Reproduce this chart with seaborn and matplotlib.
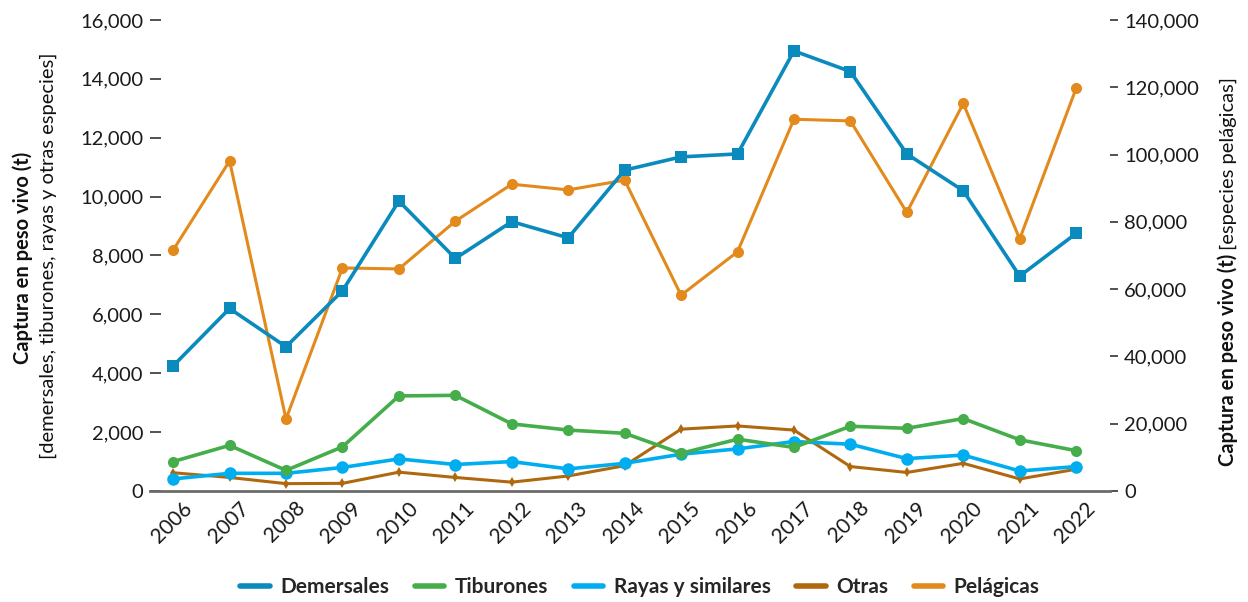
import pandas as pd
import matplotlib.pyplot as plt
import matplotlib.transforms as mtransforms
from matplotlib.lines import Line2D
from matplotlib.ticker import FuncFormatter, MultipleLocator
import seaborn as sns

# datos (t)
years = [str(y) for y in range(2006, 2023)]
demersales = [4250, 6200, 4900, 6800, 9850, 7900, 9150, 8600, 10900, 11350,
              11450, 14950, 14250, 11450, 10200, 7300, 8750]
tiburones = [1000, 1550, 700, 1500, 3230, 3250, 2280, 2070, 1960, 1280,
             1760, 1480, 2200, 2130, 2460, 1740, 1370]
rayas = [410, 600, 600, 800, 1090, 900, 1000, 750, 940, 1250,
         1430, 1680, 1590, 1100, 1220, 680, 830]
otras = [620, 460, 250, 260, 640, 460, 300, 510, 860, 2100,
         2210, 2070, 830, 630, 940, 410, 740]
pelagicas = [71600, 98100, 21400, 66300, 66000, 80200, 91200, 89500, 92400, 58200,
             71100, 110500, 110000, 82800, 115200, 74900, 119700]

colors = {'Demersales': '#0a8abd', 'Tiburones': '#45ad4a', 'Rayas y similares': '#00aeef',
          'Otras': '#b0680f', 'Pelágicas': '#e38a1d'}

sns.set_theme(style='white')
plt.rcParams['font.family'] = ['Lato', 'DejaVu Sans']

left = pd.DataFrame({'Año': years * 4,
                     'Captura': demersales + tiburones + rayas + otras,
                     'Grupo': ['Demersales'] * 17 + ['Tiburones'] * 17 +
                              ['Rayas y similares'] * 17 + ['Otras'] * 17})
right = pd.DataFrame({'Año': years, 'Captura': pelagicas})

fig = plt.figure(figsize=(12.48, 6.02), dpi=100)
ax = fig.add_axes([150 / 1248, 111 / 602, 960 / 1248, 471 / 602])
ax2 = ax.twinx()

# pelágicas detrás
sns.lineplot(data=right, x='Año', y='Captura', ax=ax2, color=colors['Pelágicas'],
             marker='o', markersize=8, markeredgewidth=0, linewidth=2.2, sort=False)

order = ['Otras', 'Rayas y similares', 'Tiburones', 'Demersales']
markers = {'Demersales': 's', 'Tiburones': 'o', 'Rayas y similares': 'o', 'Otras': 'd'}
sizes = {'Demersales': 9, 'Tiburones': 8, 'Rayas y similares': 9, 'Otras': 5}
for g in order:
    sub = left[left['Grupo'] == g]
    sns.lineplot(data=sub, x='Año', y='Captura', ax=ax, color=colors[g],
                 marker=markers[g], markersize=sizes[g], markeredgewidth=0,
                 linewidth=2.6 if g != 'Otras' else 2.2, sort=False)

ax.set_zorder(ax2.get_zorder() + 1)
ax.patch.set_visible(False)

for a in (ax, ax2):
    a.set_xlim(-0.41, 16.6)
    for s in ['top', 'left', 'right']:
        a.spines[s].set_visible(False)
    a.set_xlabel('')
    a.set_ylabel('')
ax2.spines['bottom'].set_visible(False)

ax.set_ylim(0, 16000)
ax.yaxis.set_major_locator(MultipleLocator(2000))
ax.yaxis.set_major_formatter(FuncFormatter(lambda v, p: f'{int(v):,}'))
ax2.set_ylim(0, 140000)
ax2.yaxis.set_major_locator(MultipleLocator(20000))
ax2.yaxis.set_major_formatter(FuncFormatter(lambda v, p: f'{int(v):,}'))

ax.spines['bottom'].set_color('#6b6b6b')
ax.spines['bottom'].set_linewidth(2)

ax.tick_params(axis='y', direction='in', length=8, width=1.2, color='#333333',
               pad=5, labelsize=14.5, labelcolor='#1a1a1a')
ax2.tick_params(axis='y', direction='out', length=6, width=1.2, color='#333333',
                pad=4, labelsize=14.5, labelcolor='#1a1a1a')
ax.yaxis.get_major_ticks()[0].tick1line.set_visible(False)
ax2.yaxis.get_major_ticks()[0].tick2line.set_visible(False)

ax.set_xticks(range(len(years)))
ax.set_xticks([i + 0.5 for i in range(len(years) - 1)], minor=True)
ax.tick_params(axis='x', which='major', length=0, pad=5, labelsize=15, labelcolor='#1a1a1a')
ax.tick_params(axis='x', which='minor', direction='out', length=12, width=2, color='#6b6b6b')
ax2.tick_params(axis='x', which='both', length=0, labelbottom=False)
offset = mtransforms.ScaledTranslation(9 / 100, 0, fig.dpi_scale_trans)
for lab in ax.get_xticklabels():
    lab.set_rotation(45)
    lab.set_ha('right')
    lab.set_rotation_mode('anchor')
    lab.set_transform(lab.get_transform() + offset)

# etiquetas de ejes
fig.text(23 / 1248, 1 - 258 / 602, 'Captura en peso vivo (t)', rotation=90,
         ha='center', va='center', fontsize=14.5, fontweight='bold', color='#111111')
fig.text(48 / 1248, 1 - 256 / 602, '[demersales, tiburones, rayas y otras especies]',
         rotation=90, ha='center', va='center', fontsize=14.5, color='#111111')

t1 = fig.text(1228 / 1248, 1 - 466 / 602, 'Captura en peso vivo (t)', rotation=90,
              ha='center', va='bottom', fontsize=14.5, fontweight='bold', color='#111111')
fig.canvas.draw()
bb = t1.get_window_extent(fig.canvas.get_renderer())
fig.text(1228 / 1248, (bb.y1 + 4) / 602, '[especies pelágicas]', rotation=90,
         ha='center', va='bottom', fontsize=14.5, color='#111111')

# leyenda
names = ['Demersales', 'Tiburones', 'Rayas y similares', 'Otras', 'Pelágicas']
handles = [Line2D([0], [0], color=colors[n], linewidth=4) for n in names]
leg = fig.legend(handles, names, loc='center', bbox_to_anchor=(640 / 1248, 1 - 587 / 602),
                 ncol=5, frameon=False, handlelength=1.4, columnspacing=1.25,
                 handletextpad=0.5, prop={'size': 15, 'weight': 'bold'})

fig.savefig('out.png', dpi=100)
